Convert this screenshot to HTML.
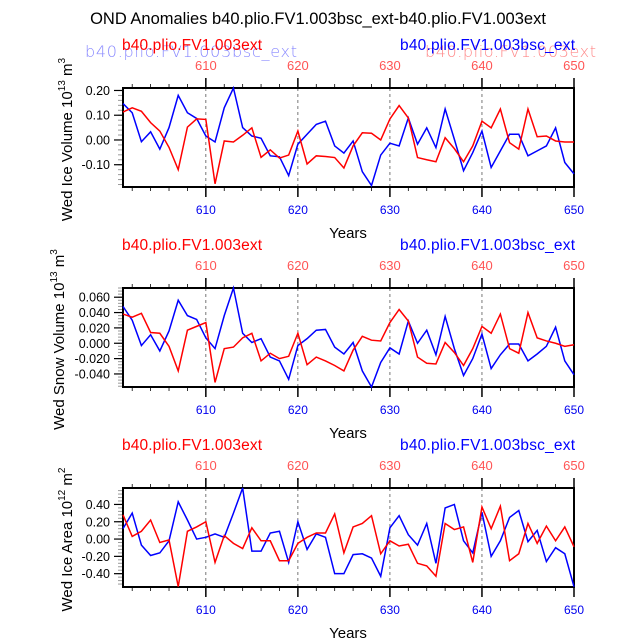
<!DOCTYPE html>
<html><head><meta charset="utf-8"><style>
body{margin:0;background:#fff;}
svg{display:block;font-family:"Liberation Sans",sans-serif;}
</style></head><body>
<svg id="c" width="638" height="639">
<text x="318" y="24" font-size="16.5" text-anchor="middle">OND Anomalies b40.plio.FV1.003bsc_ext-b40.plio.FV1.003ext</text>
</svg>
<script>
const years = [];
for (let y = 601; y <= 650; y++) years.push(y);
const iceVolBlue = [0.147,0.11,-0.007,0.033,-0.037,0.05,0.18,0.11,0.087,0.016,-0.008,0.13,0.21,0.05,0.016,0.007,-0.064,-0.068,-0.144,-0.017,0.023,0.063,0.076,-0.024,-0.053,-0.004,-0.128,-0.184,-0.061,-0.013,-0.024,0.089,-0.017,0.049,-0.031,0.125,0.003,-0.124,-0.051,0.036,-0.111,-0.044,0.023,0.023,-0.064,-0.044,-0.024,0.049,-0.091,-0.137];
const iceVolRed = [0.113,0.13,0.116,0.07,0.036,-0.03,-0.12,0.052,0.085,0.083,-0.177,-0.004,-0.008,0.019,0.049,-0.07,-0.04,-0.073,-0.061,0.036,-0.097,-0.064,-0.067,-0.071,-0.113,-0.024,0.029,0.027,0,0.085,0.139,0.089,-0.071,-0.08,-0.088,0.009,-0.035,-0.088,-0.024,0.076,0.049,0.125,-0.011,-0.037,0.125,0.013,0.016,-0.004,-0.008,-0.008];
const snowBlue = [0.048,0.030,-0.003,0.011,-0.010,0.016,0.056,0.036,0.031,0.007,-0.007,0.036,0.072,0.013,0.001,0.006,-0.018,-0.023,-0.047,-0.003,0.006,0.017,0.018,-0.005,-0.014,0.001,-0.036,-0.057,-0.025,-0.006,-0.014,0.029,0,0.017,-0.015,0.035,-0.007,-0.042,-0.020,0.012,-0.033,-0.015,-0.001,-0.001,-0.023,-0.014,-0.004,0.021,-0.023,-0.041];
const snowRed = [0.038,0.034,0.039,0.014,0.013,-0.004,-0.036,0.017,0.022,0.027,-0.051,-0.007,-0.005,0.007,0.013,-0.023,-0.013,-0.020,-0.017,0.013,-0.028,-0.018,-0.023,-0.029,-0.036,-0.009,0.009,0.004,0.003,0.027,0.044,0.029,-0.018,-0.026,-0.027,0.001,-0.012,-0.029,-0.007,0.022,0.013,0.038,-0.007,-0.013,0.040,0.007,0.003,0,-0.004,-0.002];
const areaBlue = [0.12,0.30,-0.07,-0.19,-0.16,-0.02,0.43,0.22,0.00,0.02,0.06,0.02,0.30,0.59,-0.14,-0.14,0.07,0.09,-0.27,0.20,-0.12,0.06,0.02,-0.40,-0.40,-0.18,-0.17,-0.22,-0.43,0.13,0.27,0.05,-0.07,0.18,-0.28,0.36,0.40,-0.02,-0.16,0.31,-0.20,-0.02,0.25,0.33,-0.03,0.10,-0.26,-0.10,-0.17,-0.55];
const areaRed = [0.28,0.03,0.09,0.22,-0.04,-0.01,-0.55,0.09,0.14,0.20,-0.27,0.04,-0.05,-0.11,0.13,-0.02,-0.02,-0.25,-0.25,-0.05,0.02,0.07,0.07,0.29,-0.16,0.14,0.18,0.27,-0.17,-0.02,-0.08,-0.06,-0.28,-0.31,-0.43,0.18,0.11,0.14,-0.27,0.37,0.12,0.38,-0.25,-0.17,0.18,-0.05,0.15,-0.02,0.14,-0.09];
const iceVolTicks = [0.20,0.10,0.00,-0.10];
const snowTicks = [0.060,0.040,0.020,0.000,-0.020,-0.040];
const areaTicks = [0.40,0.20,0.00,-0.20,-0.40];
const xTicks = [610,620,630,640,650];

const svg = document.getElementById('c');
const NS = 'http://www.w3.org/2000/svg';
function mk(tag, attrs, parent){const e=document.createElementNS(NS,tag);for(const k in attrs)e.setAttribute(k,attrs[k]);(parent||svg).appendChild(e);return e;}

const X0=123, X1=574, YR0=601, YR1=650;
function xs(v){return X0+(v-YR0)*(X1-X0)/(YR1-YR0);}

// ghost labels for first panel (drawn first, underneath)
const gl1=mk('text',{x:85,y:57,'font-size':16,fill:'#8a8aff','font-family':'DejaVu Sans','font-weight':'200',textLength:212});gl1.textContent='b40.plio.FV1.003bsc_ext';


const gl2=mk('text',{x:425,y:57,'font-size':16,fill:'#ff8a8a','font-family':'DejaVu Sans','font-weight':'200',textLength:171});gl2.textContent='b40.plio.FV1.003ext';



function panel(o){
  const g=mk('g',{});
  
  
  const ys=v=>o.top+(o.vmax-v)*(o.bot-o.top)/(o.vmax-o.vmin);
  xTicks.slice(0,4).forEach(t=>{mk('line',{x1:xs(t),x2:xs(t),y1:o.top,y2:o.bot,stroke:'#555','stroke-width':0.8,'stroke-dasharray':'3,3'},g);});
  for(let y=602;y<=650;y+=2){const x=xs(y);
    mk('line',{x1:x,x2:x,y1:o.top,y2:o.top-4,stroke:'#000','stroke-width':0.8},g);
    mk('line',{x1:x,x2:x,y1:o.bot,y2:o.bot+4,stroke:'#000','stroke-width':0.8},g);}
  xTicks.forEach(t=>{const x=xs(t);
    mk('line',{x1:x,x2:x,y1:o.top,y2:o.top-10,stroke:'#000','stroke-width':1.5},g);
    mk('line',{x1:x,x2:x,y1:o.bot,y2:o.bot+10,stroke:'#000','stroke-width':1.5},g);
    const tt=mk('text',{x:x,y:o.top-18,'font-size':13,fill:'#ff5555','text-anchor':'middle'},g);tt.textContent=t;
    
    
    const tb=mk('text',{x:x,y:o.bot+27,'font-size':12,fill:'#0000ee','text-anchor':'middle'},g);tb.textContent=t;
    
    
  });
  const step=(o.ticks[0]-o.ticks[1])/5;
  for(let v=o.ticks[0]+5*step; v>o.vmin; v-=step){ if(v<o.vmax) mk('line',{x1:X0,x2:X0-5,y1:ys(v),y2:ys(v),stroke:'#999','stroke-width':1},g);}
  o.ticks.forEach(t=>{const y=ys(t);
    mk('line',{x1:X0,x2:X0-9,y1:y,y2:y,stroke:'#000','stroke-width':1.2},g);
    const tl=mk('text',{x:X0-13,y:y+4.5,'font-size':12.5,'text-anchor':'end'},g);tl.textContent=t.toFixed(o.dec);
    
    
  });
  mk('rect',{x:X0,y:o.top,width:X1-X0,height:o.bot-o.top,fill:'none',stroke:'#000','stroke-width':2},g);
  [[o.blue,'#0000ff','blue-series'],[o.red,'#ff0000','red-series']].forEach(([d,c,n])=>{
    const p=mk('polyline',{points:d.map((v,i)=>xs(years[i])+','+ys(v)).join(' '),fill:'none',stroke:c,'stroke-width':1.5},g);
    
    
  });
  const yt=mk('text',{x:0,y:0,'font-size':15,'text-anchor':'middle',transform:`translate(${o.ytx},${(o.top+o.bot)/2+2}) rotate(-90)`},g);
  yt.innerHTML=o.ytitle;
  
  
  const xt=mk('text',{x:348,y:o.bot+51,'font-size':15,'text-anchor':'middle'},g);xt.textContent='Years';
  
  
  const l1=mk('text',{x:122,y:o.top-38,'font-size':15.5,fill:'#ff0000',textLength:140},g);l1.textContent='b40.plio.FV1.003ext';
  
  
  const l2=mk('text',{x:400,y:o.top-38,'font-size':15.5,fill:'#0000ff',textLength:175},g);l2.textContent='b40.plio.FV1.003bsc_ext';
  
  
}

panel({name:'ice-volume-panel',top:88,bot:187,vmax:0.21,vmin:-0.19,ticks:iceVolTicks,dec:2,blue:iceVolBlue,red:iceVolRed,ytx:72,ytitle:'Wed Ice Volume 10<tspan font-size="10" dy="-7">13</tspan><tspan dy="7"> m</tspan><tspan font-size="10" dy="-7">3</tspan>'});
panel({name:'snow-volume-panel',top:288,bot:387,vmax:0.072,vmin:-0.057,ticks:snowTicks,dec:3,blue:snowBlue,red:snowRed,ytx:64,ytitle:'Wed Snow Volume 10<tspan font-size="10" dy="-7">13</tspan><tspan dy="7"> m</tspan><tspan font-size="10" dy="-7">3</tspan>'});
panel({name:'ice-area-panel',top:488,bot:587,vmax:0.59,vmin:-0.554,ticks:areaTicks,dec:2,blue:areaBlue,red:areaRed,ytx:72,ytitle:'Wed Ice Area 10<tspan font-size="10" dy="-7">12</tspan><tspan dy="7"> m</tspan><tspan font-size="10" dy="-7">2</tspan>'});
</script>
</body></html>
